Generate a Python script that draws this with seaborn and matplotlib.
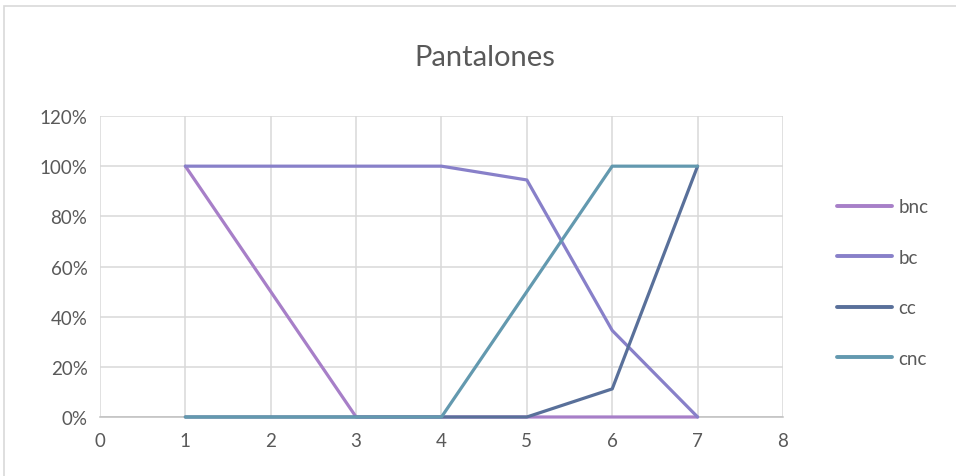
import matplotlib
matplotlib.use("Agg")
import matplotlib.pyplot as plt
import seaborn as sns
import pandas as pd
from matplotlib.patches import Rectangle

# Data: share per stage (1..7) for each category
stages = [1, 2, 3, 4, 5, 6, 7]
bnc = [1.00, 0.50, 0.00, 0.00, 0.00, 0.00, 0.00]
bc = [1.00, 1.00, 1.00, 1.00, 0.945, 0.345, 0.00]
cc = [0.00, 0.00, 0.00, 0.00, 0.00, 0.112, 1.00]
cnc = [0.00, 0.00, 0.00, 0.00, 0.50, 1.00, 1.00]
series_names = ["bnc", "bc", "cc", "cnc"]
colors = ["#A77FC8", "#8880C9", "#59709A", "#6399AF"]
title = "Pantalones"

df = pd.DataFrame({
    "x": stages * 4,
    "value": bnc + bc + cc + cnc,
    "serie": [n for n in series_names for _ in stages],
})

sns.set_theme(style="white")
plt.rcParams["font.family"] = ["Lato", "DejaVu Sans"]
text_color = "#595959"

fig = plt.figure(figsize=(9.56, 4.77), dpi=100)
ax = fig.add_axes([0.1046, 0.1237, 0.7144, 0.631])

sns.lineplot(data=df, x="x", y="value", hue="serie", hue_order=series_names,
             palette=colors, linewidth=2.3, ax=ax, legend=True)
for ln in ax.lines:
    ln.set_clip_on(False)
    ln.set_zorder(3)

ax.set_xlim(0, 8)
ax.set_ylim(0, 1.2)
ax.set_xticks(range(0, 9))
ax.set_yticks([i * 0.2 for i in range(7)])
ax.set_yticklabels([f"{int(round(v * 100))}%" for v in ax.get_yticks()])
ax.tick_params(axis="both", length=0, labelsize=13.5, colors=text_color, pad=9)
ax.tick_params(axis="x", pad=11)
ax.set_xlabel("")
ax.set_ylabel("")

ax.grid(True, color="#D9D9D9", linewidth=1.1)
ax.set_axisbelow(True)
for side in ["top", "right", "left"]:
    ax.spines[side].set_visible(False)
ax.spines["bottom"].set_color("#BFBFBF")
ax.spines["bottom"].set_linewidth(1.1)

fig.suptitle(title, x=0.507, y=0.905, fontsize=21, color=text_color)

leg = ax.legend(loc="center left", bbox_to_anchor=(1.055, 0.447), frameon=False,
                fontsize=13.5, labelspacing=1.78, handlelength=2.9, handletextpad=0.35)
for t in leg.get_texts():
    t.set_color(text_color)
for h in leg.get_lines():
    h.set_linewidth(2.8)

# Light chart-area border
fig.patches.append(Rectangle((0.004, -0.05), 1.2, 1.035, transform=fig.transFigure,
                             fill=False, edgecolor="#D9D9D9", linewidth=1.2))

fig.savefig("out.png", dpi=100)
